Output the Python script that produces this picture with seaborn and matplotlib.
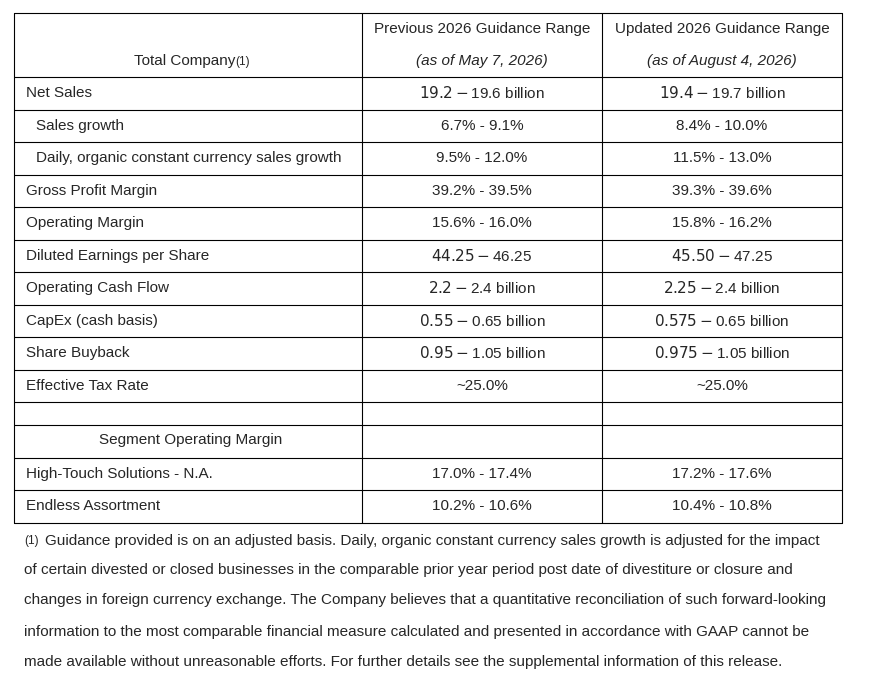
import matplotlib
matplotlib.use("Agg")
import matplotlib.pyplot as plt
import seaborn as sns

sns.set_theme(style="white")
plt.rcParams['font.family'] = ['Liberation Sans', 'DejaVu Sans']

# === DATA ===
row_labels = ["Net Sales", "Sales growth", "Daily, organic constant currency sales growth",
              "Gross Profit Margin", "Operating Margin", "Diluted Earnings per Share",
              "Operating Cash Flow", "CapEx (cash basis)", "Share Buyback", "Effective Tax Rate",
              "", "Segment Operating Margin", "High-Touch Solutions - N.A.", "Endless Assortment"]
indent = [0, 1, 1, 0, 0, 0, 0, 0, 0, 0, 0, 2, 0, 0]
prev_range = ["$19.2 - $19.6 billion", "6.7% - 9.1%", "9.5% - 12.0%", "39.2% - 39.5%",
              "15.6% - 16.0%", "$44.25 - $46.25", "$2.2 - $2.4 billion", "$0.55 - $0.65 billion",
              "$0.95 - $1.05 billion", "~25.0%", "", "", "17.0% - 17.4%", "10.2% - 10.6%"]
upd_range = ["$19.4 - $19.7 billion", "8.4% - 10.0%", "11.5% - 13.0%", "39.3% - 39.6%",
             "15.8% - 16.2%", "$45.50 - $47.25", "$2.25 - $2.4 billion", "$0.575 - $0.65 billion",
             "$0.975 - $1.05 billion", "~25.0%", "", "", "17.2% - 17.6%", "10.4% - 10.8%"]
headers = [("Previous 2026 Guidance Range", "(as of May 7, 2026)"),
           ("Updated 2026 Guidance Range", "(as of August 4, 2026)")]
footnote = ["Guidance provided is on an adjusted basis. Daily, organic constant currency sales growth is adjusted for the impact",
            "of certain divested or closed businesses in the comparable prior year period post date of divestiture or closure and",
            "changes in foreign currency exchange. The Company believes that a quantitative reconciliation of such forward-looking",
            "information to the most comparable financial measure calculated and presented in accordance with GAAP cannot be",
            "made available without unreasonable efforts. For further details see the supplemental information of this release."]

# === LAYOUT (pixels) ===
W, H = 875, 693
cols = [14, 362, 602, 842]
row_h = [32.5] * len(row_labels)
row_h[10] = 23
fig = plt.figure(figsize=(W / 100, H / 100), dpi=100)
ax = fig.add_axes([0, 0, 1, 1])
ax.set_xlim(0, W)
ax.set_ylim(H, 0)
ax.axis("off")

fs = 11
lw = 0.8
top, head_bot = 13, 77
edges = [top, head_bot]
for h in row_h:
    edges.append(edges[-1] + h)
for y in edges:
    ax.plot([cols[0], cols[-1]], [y, y], color="black", lw=lw)
for x in cols:
    ax.plot([x, x], [top, edges[-1]], color="black", lw=lw)

# header
ax.text(235, 61, "Total Company", ha="right", va="center", fontsize=fs)
ax.text(235, 62, "(1)", ha="left", va="center", fontsize=8.5)
for i, (l1, l2) in enumerate(headers):
    cx = (cols[i + 1] + cols[i + 2]) / 2
    ax.text(cx, 29, l1, ha="center", va="center", fontsize=fs)
    ax.text(cx, 61, l2, ha="center", va="center", fontsize=fs, style="italic")

# rows
for i, lab in enumerate(row_labels):
    yc = (edges[i + 1] + edges[i + 2]) / 2
    if indent[i] == 2:
        ax.text(191, yc - 1, lab, ha="center", va="center", fontsize=fs)
    else:
        ax.text(26 + 10 * indent[i], yc, lab, ha="left", va="center", fontsize=fs)
    ax.text((cols[1] + cols[2]) / 2, yc, prev_range[i], ha="center", va="center", fontsize=fs)
    ax.text((cols[2] + cols[3]) / 2, yc, upd_range[i], ha="center", va="center", fontsize=fs)

# footnote
fy = [541, 570, 600, 632, 662]
ax.text(24, fy[0], "(1)", ha="left", va="center", fontsize=8.5)
for j, line in enumerate(footnote):
    x0 = 45 if j == 0 else 24
    ax.text(x0, fy[j], line, ha="left", va="center", fontsize=fs)

fig.savefig("out.png", dpi=100)
